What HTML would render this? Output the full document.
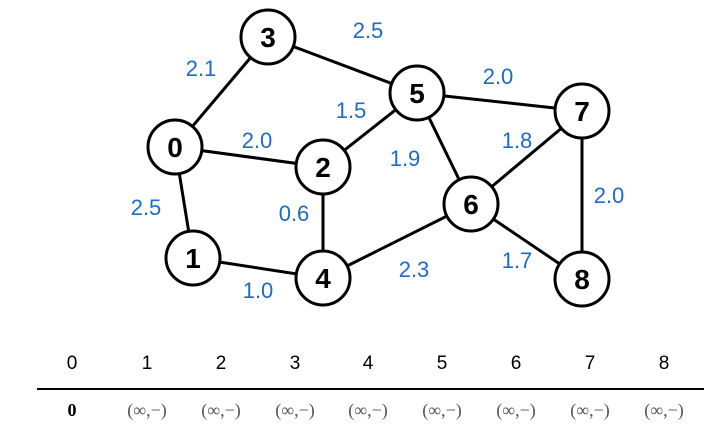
<!DOCTYPE html>
<html><head><meta charset="utf-8"><style>
html,body{margin:0;padding:0;background:#fff;width:728px;height:444px;overflow:hidden}
</style></head><body>
<svg width="728" height="444" viewBox="0 0 728 444" xmlns="http://www.w3.org/2000/svg">
<g stroke="#000" stroke-width="3">
<line x1="175" y1="147" x2="268" y2="37"/>
<line x1="268" y1="37" x2="417" y2="93"/>
<line x1="175" y1="147" x2="323" y2="167"/>
<line x1="175" y1="147" x2="193" y2="258"/>
<line x1="323" y1="167" x2="417" y2="93"/>
<line x1="323" y1="167" x2="323" y2="278"/>
<line x1="193" y1="258" x2="323" y2="278"/>
<line x1="417" y1="93" x2="582" y2="111"/>
<line x1="417" y1="93" x2="471" y2="204"/>
<line x1="471" y1="204" x2="582" y2="111"/>
<line x1="471" y1="204" x2="582" y2="279"/>
<line x1="582" y1="111" x2="582" y2="279"/>
<line x1="323" y1="278" x2="471" y2="204"/>
</g>
<g fill="#fff" stroke="#000" stroke-width="3">
<circle cx="175" cy="147" r="27"/><circle cx="193" cy="258" r="27"/>
<circle cx="323" cy="167" r="27"/><circle cx="268" cy="37" r="27"/>
<circle cx="323" cy="278" r="27"/><circle cx="417" cy="93" r="27"/>
<circle cx="471" cy="204" r="27"/><circle cx="582" cy="111" r="27"/>
<circle cx="582" cy="279" r="27"/>
</g>
<g font-family="Liberation Sans, sans-serif" font-weight="bold" font-size="28" text-anchor="middle" fill="#000">
<text x="175" y="157">0</text><text x="193" y="268">1</text><text x="323" y="177">2</text>
<text x="268" y="47">3</text><text x="323" y="288">4</text><text x="417" y="103">5</text>
<text x="471" y="214">6</text><text x="582" y="121">7</text><text x="582" y="289">8</text>
</g>
<g font-family="Liberation Sans, sans-serif" font-size="22" text-anchor="middle" fill="#1f6bbf">
<text x="201" y="76">2.1</text><text x="368" y="38">2.5</text><text x="498" y="84">2.0</text>
<text x="351" y="118">1.5</text><text x="257" y="148">2.0</text><text x="517" y="148">1.8</text>
<text x="405" y="166">1.9</text><text x="146" y="215">2.5</text><text x="294" y="221">0.6</text>
<text x="609" y="203">2.0</text><text x="517" y="268">1.7</text><text x="414" y="277">2.3</text>
<text x="258" y="298">1.0</text>
</g>
<g font-family="Liberation Sans, sans-serif" font-size="19" text-anchor="middle" fill="#000">
<text x="72" y="369">0</text><text x="147" y="369">1</text><text x="221" y="369">2</text>
<text x="295" y="369">3</text><text x="368" y="369">4</text><text x="442" y="369">5</text>
<text x="516" y="369">6</text><text x="590" y="369">7</text><text x="664" y="369">8</text>
</g>
<line x1="37" y1="389" x2="704" y2="389" stroke="#000" stroke-width="2"/>
<g font-family="Liberation Serif, serif" font-size="18" text-anchor="middle" fill="#555">
<text x="72" y="416" font-weight="bold" fill="#000">0</text>
<text x="147" y="416">(∞,−)</text><text x="221" y="416">(∞,−)</text><text x="295" y="416">(∞,−)</text>
<text x="368" y="416">(∞,−)</text><text x="442" y="416">(∞,−)</text><text x="516" y="416">(∞,−)</text>
<text x="590" y="416">(∞,−)</text><text x="664" y="416">(∞,−)</text>
</g>
</svg>
</body></html>
